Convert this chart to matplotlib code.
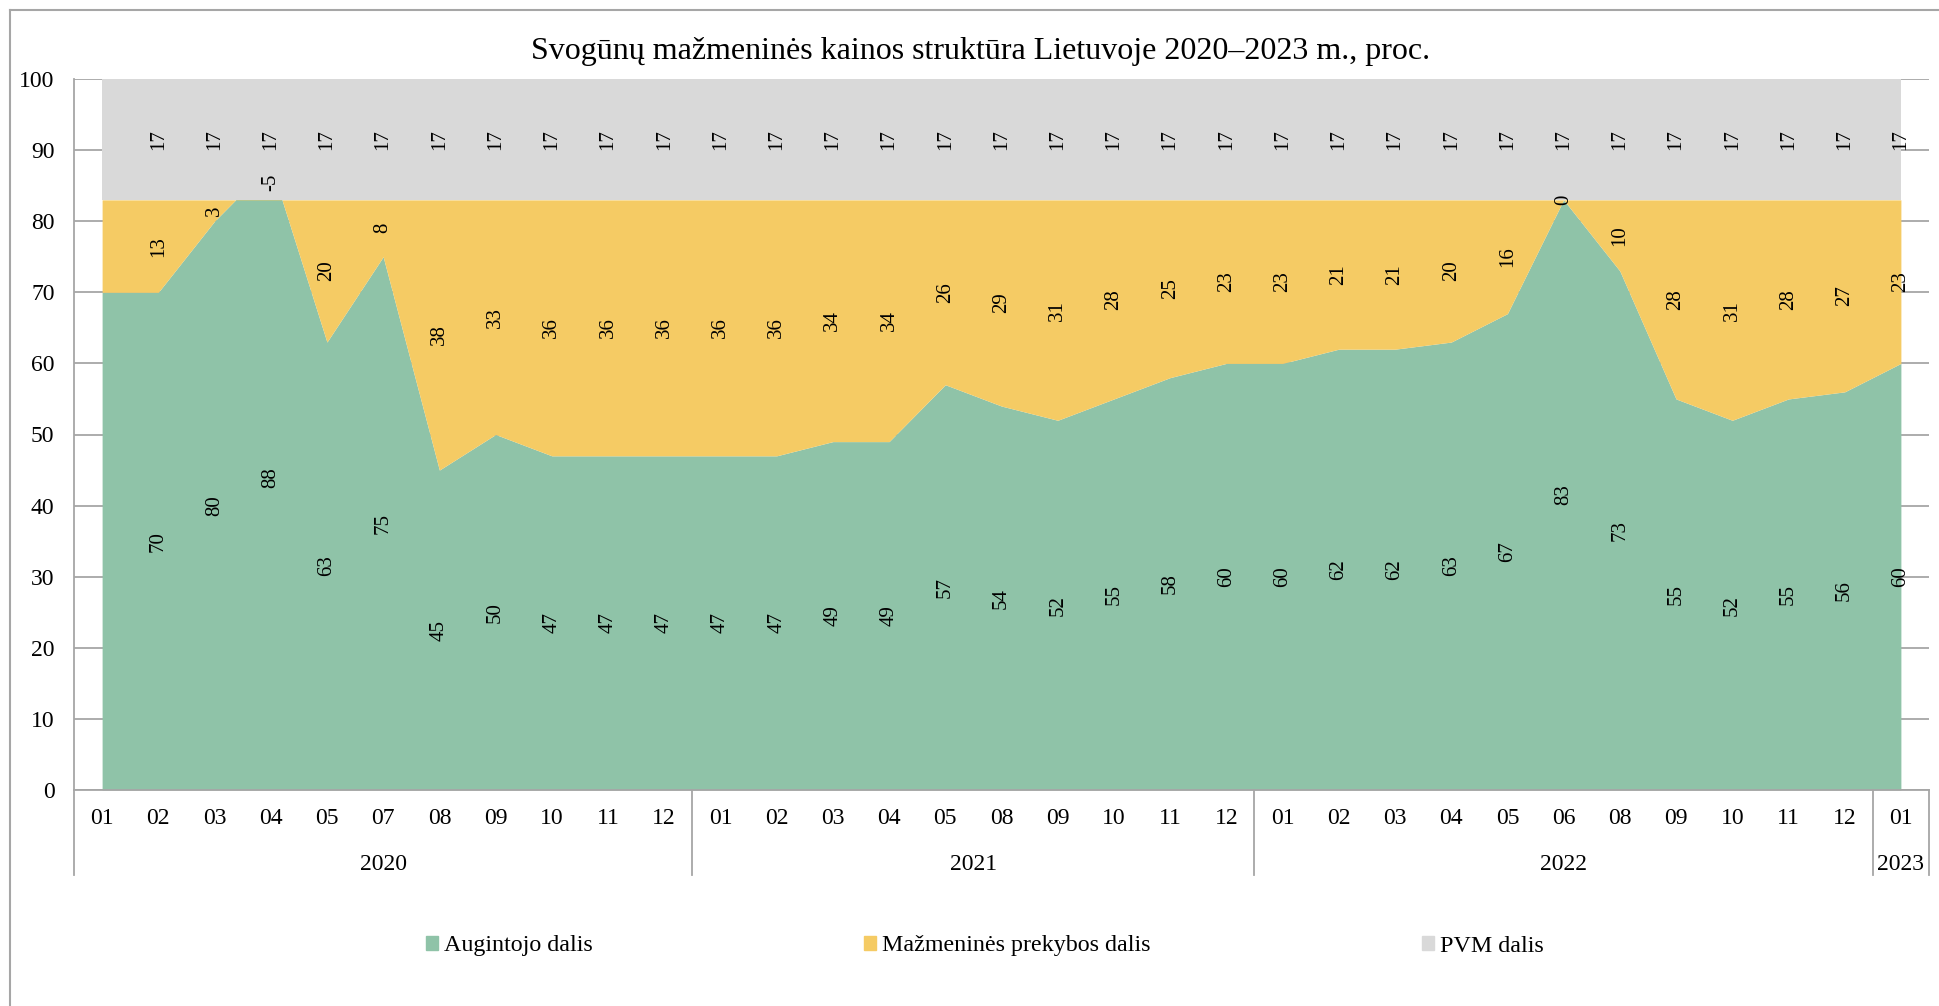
import matplotlib.pyplot as plt
from matplotlib.patches import Patch
from matplotlib.lines import Line2D
from itertools import groupby

plt.rcParams['font.family'] = ['Liberation Serif', 'DejaVu Serif']

# Category axis: month labels with year groups
months = ['01', '02', '03', '04', '05', '07', '08', '09', '10', '11', '12',
          '01', '02', '03', '04', '05', '08', '09', '10', '11', '12',
          '01', '02', '03', '04', '05', '06', '08', '09', '10', '11', '12',
          '01']
years = ['2020'] * 11 + ['2021'] * 10 + ['2022'] * 11 + ['2023'] * 1

# Shares of retail price, %
grower = [70, 70, 80, 88, 63, 75, 45, 50, 47, 47, 47,
          47, 47, 49, 49, 57, 54, 52, 55, 58, 60,
          60, 62, 62, 63, 67, 83, 73, 55, 52, 55, 56,
          60]
retail = [13, 13, 3, -5, 20, 8, 38, 33, 36, 36, 36,
          36, 36, 34, 34, 26, 29, 31, 28, 25, 23,
          23, 21, 21, 20, 16, 0, 10, 28, 31, 28, 27,
          23]
vat = [17, 17, 17, 17, 17, 17, 17, 17, 17, 17, 17,
       17, 17, 17, 17, 17, 17, 17, 17, 17, 17,
       17, 17, 17, 17, 17, 17, 17, 17, 17, 17, 17,
       17]

series_names = ['Augintojo dalis', 'Mažmeninės prekybos dalis', 'PVM dalis']
colors = ['#8FC3A8', '#F5CB64', '#D9D9D9']
grid_col = '#A6A6A6'

W, H = 1939, 1006
fig = plt.figure(figsize=(W / 100, H / 100), dpi=100)
ax = fig.add_axes([74 / W, 1 - 790 / H, (1929 - 74) / W, (790 - 79) / H])

n = len(months)
x = list(range(n))
top1 = grower
top2 = [a + b for a, b in zip(grower, retail)]
top3 = [a + b for a, b in zip(top2, vat)]

ax.fill_between(x, 0, top1, color=colors[0], lw=0, zorder=2)
ax.fill_between(x, top1, top2, color=colors[1], lw=0, zorder=2)
ax.fill_between(x, top2, top3, color=colors[2], lw=0, zorder=2)

# data labels (first point has none in the original)
for i in range(1, n):
    for lo, val in ((0, grower[i]), (top1[i], retail[i]), (top2[i], vat[i])):
        ax.text(i, lo + val / 2, str(val), rotation=90, ha='center', va='center',
                fontsize=15, zorder=5)

ax.set_xlim(-0.5, n - 0.5)
ax.set_ylim(0, 100)
ax.set_yticks(range(0, 101, 10))
ax.yaxis.grid(True, color=grid_col, lw=1.3)
ax.set_axisbelow(True)
for s in ('top', 'right'):
    ax.spines[s].set_visible(False)
for s in ('left', 'bottom'):
    ax.spines[s].set_color(grid_col)
    ax.spines[s].set_linewidth(1.3)
    ax.spines[s].set_zorder(3)

ax.set_xticks(x)
ax.set_xticklabels(months)
ax.tick_params(axis='x', length=0, pad=13, labelsize=17)
ax.tick_params(axis='y', length=0, pad=14, labelsize=17)

# year groups and separators
tr = ax.get_xaxis_transform()
sep_y = -85 / 711
start = -0.5
ax.plot([start, start], [0, sep_y], transform=tr, clip_on=False, color=grid_col, lw=1.3)
for yr, grp in groupby(years):
    size = len(list(grp))
    end = start + size
    ax.text((start + end) / 2, -74 / 711, yr, transform=tr, ha='center', va='center',
            fontsize=17)
    ax.plot([end, end], [0, sep_y], transform=tr, clip_on=False, color=grid_col, lw=1.3)
    start = end

fig.text(981 / W, 1 - 52 / H, 'Svogūnų mažmeninės kainos struktūra Lietuvoje 2020–2023 m., proc.',
         ha='center', va='center', fontsize=23)

handles = [Patch(color=c, label=l) for c, l in zip(colors, series_names)]
fig.legend(handles=handles, loc='center', bbox_to_anchor=(985 / W, 1 - 946 / H), ncol=3,
           frameon=False, fontsize=17.3, handlelength=0.5, handleheight=0.5,
           handletextpad=0.25, columnspacing=11.3)

# chart frame (only top and left edges visible)
fig.add_artist(Line2D([10 / W, 1], [1 - 10 / H, 1 - 10 / H], transform=fig.transFigure,
                      color=grid_col, lw=1.5))
fig.add_artist(Line2D([10 / W, 10 / W], [1 - 10 / H, 0], transform=fig.transFigure,
                      color=grid_col, lw=1.5))

fig.savefig('out.png', dpi=100)
